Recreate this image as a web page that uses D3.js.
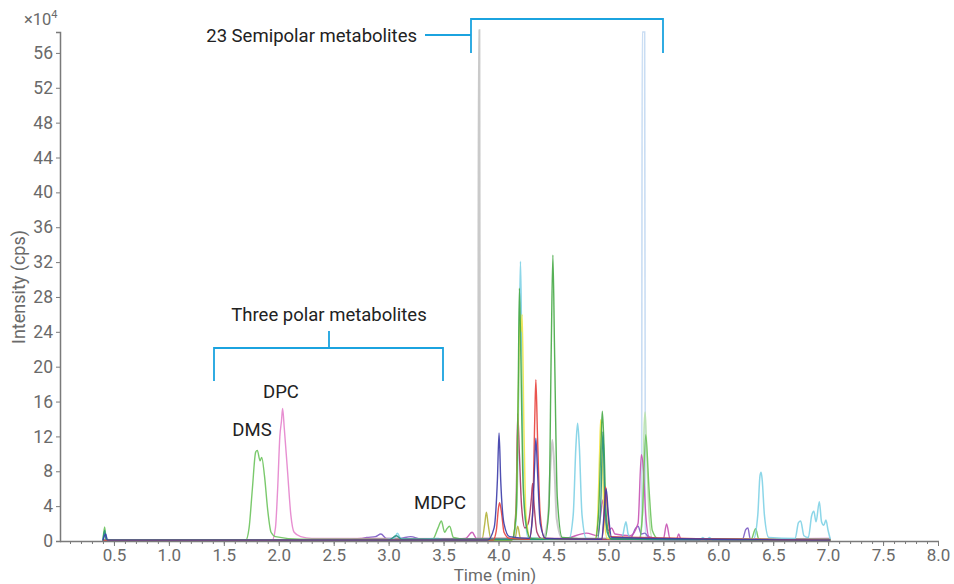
<!DOCTYPE html>
<html>
<head>
<meta charset="utf-8">
<script src="https://cdn.jsdelivr.net/npm/d3@7"></script>
<style>
  body { margin: 0; background: #fff; }
  svg { font-family: Roboto, "Noto Sans", sans-serif; }
</style>
</head>
<body>
<div id="chart"></div>
<script>
// Chromatogram traces, [time (min), intensity (x10^4 cps)]
const grayTrace = [[0.40,0.05],[3.80,0.1],[3.815,0.3],[3.82,58.6],[3.826,58.6],[3.832,0.3],[4.40,0.2],[4.45,2.5],[4.47,8],[4.49,11.6],[4.51,8],[4.53,2.5],[4.58,0.3],[7.02,0.1]];
const lightBlueTrace = [[0.40,0.05],[5.29,0.2],[5.302,1.5],[5.308,58.4],[5.33,58.4],[5.337,1.5],[5.35,0.2],[7.02,0.1]];
const paleGreenTrace = [[0.40,0.05],[5.28,0.2],[5.31,3],[5.325,13],[5.335,14.8],[5.35,10],[5.37,3],[5.40,0.3],[7.02,0.1]];
const cyanTrace = [[0.40,0.1],[0.42,0.9],[0.44,0.1],[1.0,0.05],[2.9,0.1],[3.05,0.3],[3.08,0.9],[3.11,0.3],[3.3,0.2],[3.45,0.3],[3.5,0.1],[4.14,0.3],[4.17,5],[4.19,24],[4.20,32.1],[4.21,24],[4.23,5],[4.27,0.4],[4.64,0.2],[4.68,3],[4.705,11],[4.72,13.5],[4.735,11],[4.76,3],[4.80,0.3],[5.12,0.2],[5.15,1.8],[5.16,2.2],[5.18,0.8],[5.22,0.2],[5.83,0.1],[5.86,0.4],[5.89,0.1],[5.92,0.4],[5.95,0.1],[6.32,0.2],[6.36,3],[6.38,7.5],[6.39,7.9],[6.40,7.0],[6.42,3],[6.46,0.4],[6.70,0.3],[6.73,2.1],[6.75,2.3],[6.78,0.6],[6.82,0.4],[6.85,2.9],[6.87,3.4],[6.89,2.2],[6.92,4.5],[6.94,2.2],[6.96,1.8],[6.98,2.4],[7.00,1.2],[7.02,0.2]];
const yellowTrace = [[0.40,0.05],[4.12,0.1],[4.16,3],[4.18,16],[4.195,26],[4.205,24],[4.215,26],[4.23,14],[4.25,3],[4.29,0.3],[4.88,0.2],[4.90,2],[4.92,10],[4.93,13.9],[4.945,10],[4.96,3],[4.99,0.3],[7.02,0.1]];
const greenTrace = [[0.40,0.05],[4.12,0.1],[4.16,3],[4.18,18],[4.19,29],[4.205,20],[4.22,8],[4.25,2],[4.29,0.3],[4.42,0.2],[4.46,4],[4.48,22],[4.495,32.8],[4.51,22],[4.535,5],[4.58,0.4],[4.88,0.2],[4.91,3],[4.935,12],[4.945,14.9],[4.96,11],[4.98,3],[5.02,0.3],[7.02,0.1]];
const lightGreenTrace = [[0.40,0.05],[0.415,1.6],[0.43,0.2],[0.5,0.1],[1.70,0.1],[1.73,1.5],[1.76,6],[1.79,10.2],[1.805,10.4],[1.83,9.2],[1.845,9.6],[1.87,7.5],[1.90,3.5],[1.93,1.0],[1.97,0.5],[2.2,0.2],[3.4,0.2],[3.45,1.5],[3.48,2.3],[3.51,1.0],[3.53,1.4],[3.555,1.7],[3.59,0.4],[3.7,0.2],[5.28,0.2],[5.31,3],[5.34,12.2],[5.37,6],[5.40,1.2],[5.45,0.3],[6.30,0.2],[6.34,1.4],[6.37,0.2],[7.02,0.2]];
const pinkTrace = [[0.40,0.05],[1.94,0.1],[1.97,1.5],[1.99,6],[2.01,12],[2.025,13.8],[2.035,15.2],[2.05,13],[2.08,8],[2.11,3],[2.14,1.0],[2.2,0.5],[2.3,0.3],[7.02,0.2]];
const magentaTrace = [[0.40,0.05],[2.6,0.1],[2.75,0.3],[3.5,0.2],[3.7,0.3],[3.76,1.0],[3.80,0.3],[4.6,0.3],[4.8,0.9],[4.9,0.6],[4.93,3],[4.95,4.7],[4.97,2.5],[5.0,1.2],[5.03,1.5],[5.06,0.8],[5.2,0.6],[5.27,2],[5.30,9.9],[5.32,8],[5.34,3],[5.37,0.5],[5.50,0.2],[5.53,1.95],[5.56,0.3],[5.62,0.2],[5.64,0.8],[5.66,0.2],[7.02,0.3]];
const redTrace = [[0.40,0.05],[3.95,0.1],[3.98,1.2],[4.00,3.8],[4.01,4.4],[4.03,3],[4.05,1],[4.1,0.3],[4.28,0.2],[4.31,3],[4.33,14],[4.34,18.5],[4.355,12],[4.38,3],[4.42,0.3],[4.94,0.2],[4.96,2.5],[4.975,6.2],[4.99,4],[5.02,0.5],[7.02,0.1]];
const navyTrace = [[0.40,0.05],[0.425,0.8],[0.44,0.1],[3.9,0.1],[3.96,1.5],[3.99,7],[4.005,12.4],[4.02,7],[4.05,2],[4.1,0.5],[4.28,0.3],[4.31,3],[4.33,9],[4.34,11.8],[4.355,8],[4.38,2],[4.43,0.3],[4.94,0.2],[4.96,3],[4.98,6],[5.0,3],[5.03,0.4],[7.02,0.1]];
const maroonTrace = [[0.40,0.05],[4.13,0.2],[4.16,4],[4.175,14.6],[4.19,10],[4.21,4],[4.24,1.5],[4.27,2],[4.30,5],[4.31,6.6],[4.325,4],[4.35,1],[4.4,0.2],[7.02,0.1]];
const tealTrace = [[0.40,0.05],[0.415,1.2],[0.43,0.1],[3.0,0.1],[3.07,0.6],[3.12,0.2],[4.90,0.2],[4.93,4],[4.95,12.5],[4.965,6],[4.99,1],[5.03,0.2],[7.02,0.1]];
const oliveTrace = [[0.40,0.05],[3.85,0.2],[3.875,2],[3.89,3.3],[3.905,2],[3.93,0.3],[4.15,0.3],[4.175,1.7],[4.20,0.3],[7.02,0.1]];
const purpleTrace = [[0.40,0.05],[2.7,0.1],[2.8,0.4],[2.88,0.5],[2.93,0.8],[2.98,0.3],[3.1,0.3],[3.2,0.5],[3.3,0.2],[5.2,0.3],[5.25,1.5],[5.27,1.7],[5.30,0.8],[5.33,0.9],[5.38,0.3],[6.22,0.2],[6.25,1.3],[6.27,1.5],[6.29,0.3],[7.02,0.1]];

const yTicks = [0, 4, 8, 12, 16, 20, 24, 28, 32, 36, 40, 44, 48, 52, 56];
const xTicks = [0.5, 1.0, 1.5, 2.0, 2.5, 3.0, 3.5, 4.0, 4.5, 5.0, 5.5, 6.0, 6.5, 7.0, 7.5, 8.0];

// draw order + colours
const traces = [
    { data: lightBlueTrace, color: '#c3d9f2', w: 1.6 },
    { data: grayTrace, color: '#c4c4c4', w: 2 },
    { data: paleGreenTrace, color: '#b9e2ac', w: 1.5 },
    { data: purpleTrace, color: '#7b5cc4', w: 1.4 },
    { data: oliveTrace, color: '#b2b23a', w: 1.4 },
    { data: magentaTrace, color: '#c752b2', w: 1.4 },
    { data: pinkTrace, color: '#e483cc', w: 1.4 },
    { data: lightGreenTrace, color: '#6cc35c', w: 1.4 },
    { data: cyanTrace, color: '#7fd2e6', w: 1.5 },
    { data: maroonTrace, color: '#a63462', w: 1.4 },
    { data: yellowTrace, color: '#f0e64a', w: 1.5 },
    { data: greenTrace, color: '#45a945', w: 1.4 },
    { data: tealTrace, color: '#23907a', w: 1.4 },
    { data: redTrace, color: '#e8413c', w: 1.4 },
    { data: navyTrace, color: '#3b3ba8', w: 1.4 }
];

const width = 954, height = 584;
const svg = d3.select('#chart').append('svg')
    .attr('width', width)
    .attr('height', height);

const x = d3.scaleLinear().domain([0, 8]).range([59, 938]);
const y = d3.scaleLinear().domain([0, 58.4]).range([541, 32]);

const axisColor = '#7a7a7a', tickText = '#6a6a6a';

// traces
const line = d3.line()
    .x(d => x(d[0]))
    .y(d => y(d[1]))
    .curve(d3.curveMonotoneX);

svg.append('g').selectAll('path')
    .data(traces)
    .join('path')
    .attr('d', d => line(d.data))
    .attr('fill', 'none')
    .attr('stroke', d => d.color)
    .attr('stroke-width', d => d.w)
    .attr('stroke-opacity', 0.9);

// y axis
const yAxis = svg.append('g')
    .attr('transform', `translate(${x(0) + 1},0)`)
    .call(d3.axisLeft(y).tickValues(yTicks).tickSize(4).tickPadding(3));
yAxis.select('.domain').attr('stroke', axisColor).attr('stroke-width', 1.5);
yAxis.selectAll('.tick line').attr('stroke', axisColor);
yAxis.selectAll('.tick text')
    .attr('fill', tickText)
    .style('font-size', '17.5px')
    .style('font-family', 'Roboto');

// x axis, minor ticks every 0.1
const xAxisMinor = svg.append('g')
    .attr('transform', `translate(0,${y(0)})`)
    .call(d3.axisBottom(x).tickValues(d3.range(1, 81).map(i => i / 10)).tickSize(3).tickFormat(''));
xAxisMinor.select('.domain').remove();
xAxisMinor.selectAll('.tick line').attr('stroke', axisColor);

const xAxis = svg.append('g')
    .attr('transform', `translate(0,${y(0)})`)
    .call(d3.axisBottom(x).tickValues(xTicks).tickSize(5).tickPadding(3).tickFormat(d3.format('.1f')));
xAxis.select('.domain').attr('stroke', axisColor).attr('stroke-width', 1.5)
    .attr('d', `M${x(0) + 1},0.5H${x(8) + 1}`);
xAxis.selectAll('.tick line').attr('stroke', axisColor);
xAxis.selectAll('.tick text')
    .attr('fill', tickText)
    .style('font-size', '17px')
    .style('font-family', 'Roboto');

// axis titles
svg.append('text')
    .attr('x', 495).attr('y', 581)
    .attr('text-anchor', 'middle')
    .attr('fill', tickText)
    .style('font-size', '17px')
    .text('Time (min)');

svg.append('text')
    .attr('transform', 'translate(25,287) rotate(-90)')
    .attr('text-anchor', 'middle')
    .attr('fill', tickText)
    .style('font-size', '18px')
    .text('Intensity (cps)');

svg.append('text')
    .attr('x', 24).attr('y', 25)
    .attr('fill', tickText)
    .style('font-size', '16.5px')
    .html('×10<tspan dy="-7" style="font-size:11px">4</tspan>');

// annotations
const bracketColor = '#1ba3df', labelColor = '#222';

const labels = [
    { text: 'DPC', x: 281, y: 398 },
    { text: 'DMS', x: 252, y: 436 },
    { text: 'MDPC', x: 440, y: 509 },
    { text: 'Three polar metabolites', x: 329, y: 321 }
];
svg.append('g').selectAll('text')
    .data(labels)
    .join('text')
    .attr('x', d => d.x).attr('y', d => d.y)
    .attr('text-anchor', 'middle')
    .attr('fill', labelColor)
    .style('font-size', '18.5px')
    .text(d => d.text);

svg.append('text')
    .attr('x', 417).attr('y', 42)
    .attr('text-anchor', 'end')
    .attr('fill', labelColor)
    .style('font-size', '18.5px')
    .text('23 Semipolar metabolites');

const brackets = [
    'M214,381V348H443V381M329,348V331',
    'M471,53V19H663V53M425,35H471'
];
svg.append('g').selectAll('path')
    .data(brackets)
    .join('path')
    .attr('d', d => d)
    .attr('fill', 'none')
    .attr('stroke', bracketColor)
    .attr('stroke-width', 1.8);
</script>
</body>
</html>
